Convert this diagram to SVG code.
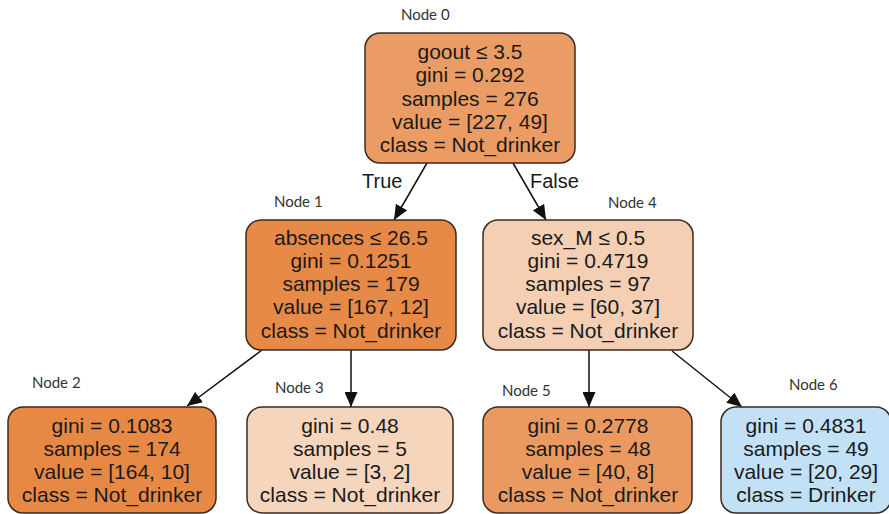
<svg xmlns="http://www.w3.org/2000/svg" width="889" height="514" viewBox="0 0 889 514">
  <style>
    .box { stroke: #3b2a20; stroke-width: 1.5; }
    .t { font-family: "Liberation Sans", Arial, sans-serif; font-size: 21px; fill: #1a1a1a; text-anchor: middle; }
    .id { font-family: Lato, "Open Sans", sans-serif; font-size: 15px; fill: #333; }
    .el { font-family: "Liberation Sans", Arial, sans-serif; font-size: 20px; fill: #1a1a1a; }
    .edge { stroke: #111; stroke-width: 1.5; fill: none; marker-end: url(#arrow); }
  </style>
  <defs>
    <marker id="arrow" markerUnits="userSpaceOnUse" markerWidth="16" markerHeight="13" refX="15" refY="6.5" orient="auto">
      <path d="M0,0 L15,6.5 L0,13 Z" fill="#111"/>
    </marker>
  </defs>
  <rect width="889" height="514" fill="#fff"/>

  <g id="connectors">
    <line class="edge" x1="427" y1="163" x2="394" y2="220"/>
    <line class="edge" x1="513" y1="163" x2="546" y2="220"/>
    <line class="edge" x1="262" y1="350" x2="187" y2="406"/>
    <line class="edge" x1="351" y1="350" x2="351" y2="407"/>
    <line class="edge" x1="589" y1="350" x2="589" y2="407"/>
    <line class="edge" x1="672" y1="351" x2="742" y2="407"/>
    <text class="el" x="362" y="188">True</text>
    <text class="el" x="530" y="188">False</text>
  </g>

  <g id="node0">
    <rect class="box" x="365" y="33" width="210" height="130" rx="15" fill="#eb9c64"/>
    <text class="id" x="401" y="20">Node 0</text>
    <text class="t" x="470" y="59">goout ≤ 3.5</text>
    <text class="t" x="470" y="82.3">gini = 0.292</text>
    <text class="t" x="470" y="105.6">samples = 276</text>
    <text class="t" x="470" y="128.9">value = [227, 49]</text>
    <text class="t" x="470" y="152.2">class = Not_drinker</text>
  </g>

  <g id="node1">
    <rect class="box" x="246" y="220" width="210" height="130" rx="15" fill="#e78a47"/>
    <text class="id" x="274" y="207">Node 1</text>
    <text class="t" x="351" y="244.5">absences ≤ 26.5</text>
    <text class="t" x="351" y="267.8">gini = 0.1251</text>
    <text class="t" x="351" y="291.1">samples = 179</text>
    <text class="t" x="351" y="314.4">value = [167, 12]</text>
    <text class="t" x="351" y="337.7">class = Not_drinker</text>
  </g>

  <g id="node4">
    <rect class="box" x="483" y="220" width="210" height="130" rx="15" fill="#f5cfb3"/>
    <text class="id" x="608" y="208">Node 4</text>
    <text class="t" x="588" y="244.5">sex_M ≤ 0.5</text>
    <text class="t" x="588" y="267.8">gini = 0.4719</text>
    <text class="t" x="588" y="291.1">samples = 97</text>
    <text class="t" x="588" y="314.4">value = [60, 37]</text>
    <text class="t" x="588" y="337.7">class = Not_drinker</text>
  </g>

  <g id="node2">
    <rect class="box" x="8" y="407" width="208" height="106" rx="15" fill="#e78945"/>
    <text class="id" x="32" y="388">Node 2</text>
    <text class="t" x="112" y="432.5">gini = 0.1083</text>
    <text class="t" x="112" y="455.8">samples = 174</text>
    <text class="t" x="112" y="479.1">value = [164, 10]</text>
    <text class="t" x="112" y="502.4">class = Not_drinker</text>
  </g>

  <g id="node3">
    <rect class="box" x="247" y="407" width="206" height="106" rx="15" fill="#f6d5bd"/>
    <text class="id" x="275" y="393">Node 3</text>
    <text class="t" x="350" y="432.5">gini = 0.48</text>
    <text class="t" x="350" y="455.8">samples = 5</text>
    <text class="t" x="350" y="479.1">value = [3, 2]</text>
    <text class="t" x="350" y="502.4">class = Not_drinker</text>
  </g>

  <g id="node5">
    <rect class="box" x="483" y="407" width="209" height="106" rx="15" fill="#ea9a61"/>
    <text class="id" x="502" y="396">Node 5</text>
    <text class="t" x="588" y="432.5">gini = 0.2778</text>
    <text class="t" x="588" y="455.8">samples = 48</text>
    <text class="t" x="588" y="479.1">value = [40, 8]</text>
    <text class="t" x="588" y="502.4">class = Not_drinker</text>
  </g>

  <g id="node6">
    <rect class="box" x="721" y="407" width="170" height="106" rx="15" fill="#c2e1f7"/>
    <text class="id" x="789" y="390">Node 6</text>
    <text class="t" x="806" y="432.5">gini = 0.4831</text>
    <text class="t" x="806" y="455.8">samples = 49</text>
    <text class="t" x="806" y="479.1">value = [20, 29]</text>
    <text class="t" x="806" y="502.4">class = Drinker</text>
  </g>
</svg>
